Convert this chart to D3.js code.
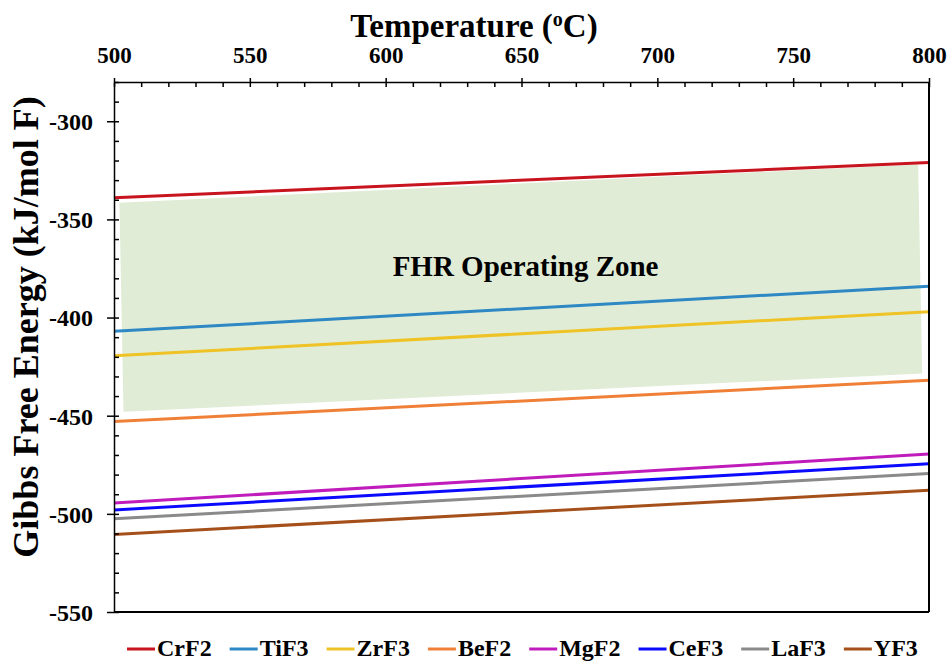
<!DOCTYPE html>
<html lang="en">
  <head>
    <meta charset="UTF-8" />
    <title>Gibbs Free Energy</title>
    <style>
      body { margin: 0; background: #fff; }
      text { font-family: "Liberation Serif", "Times New Roman", serif; font-weight: bold; fill: #000; }
      .axis path, .axis line { stroke: #000; stroke-width: 1.5px; }
    </style>
    <script src="https://d3js.org/d3.v7.min.js"></script>
  </head>
  <body>
    <div id="chart"></div>
    <script>
      // endpoints of each line, temperatures in degC
      const temps = [500, 800];
      const names = ["CrF2", "TiF3", "ZrF3", "BeF2", "MgF2", "CeF3", "LaF3", "YF3"];
      const colors = ["#c8141e", "#2e88c4", "#efc225", "#f08038", "#c01cbc", "#0a0aff", "#8a8a8a", "#a5501a"];
      const energyAt500 = [-339, -407, -419.5, -453, -494.5, -498, -502.5, -510.5];
      const energyAt800 = [-321, -384, -397, -432, -469.5, -474.5, -479.5, -488];
      // operating zone corners (temp, energy)
      const zoneTemps = [502, 796, 797.5, 503.5];
      const zoneEnergy = [-341.5, -322, -428.5, -448];
      const xTicks = [500, 550, 600, 650, 700, 750, 800];
      const yTicks = [-300, -350, -400, -450, -500, -550];

      const width = 949, height = 661;
      const margin = { top: 82, right: 20, bottom: 49, left: 114 };
      const serif = '"Liberation Serif", "Times New Roman", serif';

      const svg = d3.select("#chart").append("svg")
        .attr("width", width).attr("height", height);

      const x = d3.scaleLinear().domain([500, 800]).range([margin.left, width - margin.right]);
      const y = d3.scaleLinear().domain([-550, -280]).range([height - margin.bottom, margin.top]);

      // operating zone
      svg.append("polygon")
        .attr("points", zoneTemps.map((t, i) => [x(t), y(zoneEnergy[i])].join(",")).join(" "))
        .attr("fill", "#e0ecd6");

      svg.append("text")
        .attr("x", x(651.5)).attr("y", y(-379))
        .attr("text-anchor", "middle")
        .style("font-size", "29px")
        .text("FHR Operating Zone");

      // lines
      const line = d3.line().x(d => x(d[0])).y(d => y(d[1]));
      names.forEach((n, i) => {
        svg.append("path")
          .datum(temps.map((t, j) => [t, j === 0 ? energyAt500[i] : energyAt800[i]]))
          .attr("d", line)
          .attr("fill", "none")
          .attr("stroke", colors[i])
          .attr("stroke-width", 3);
      });

      // frame: right and bottom
      svg.append("line")
        .attr("x1", x(800)).attr("x2", x(800))
        .attr("y1", y(-280)).attr("y2", y(-550))
        .attr("stroke", "#000").attr("stroke-width", 2);
      svg.append("line")
        .attr("x1", x(500)).attr("x2", x(800))
        .attr("y1", y(-550)).attr("y2", y(-550))
        .attr("stroke", "#000").attr("stroke-width", 2);

      // top axis
      const minorX = d3.range(500, 801, 10);
      svg.append("g").attr("class", "axis")
        .attr("transform", `translate(0,${margin.top})`)
        .call(d3.axisTop(x).tickValues(minorX).tickSize(-5).tickFormat(""))
        .call(g => g.select(".domain").remove());
      const gx = svg.append("g").attr("class", "axis")
        .attr("transform", `translate(0,${margin.top})`)
        .call(d3.axisTop(x).tickValues(xTicks).tickSize(4).tickSizeOuter(0).tickPadding(15).tickFormat(d3.format("d")))
        .attr("font-family", serif);
      gx.select(".domain").attr("stroke-width", 2);
      gx.selectAll("text").style("font-size", "23px");

      // left axis
      const minorY = d3.range(-550, -279, 10);
      svg.append("g").attr("class", "axis")
        .attr("transform", `translate(${margin.left},0)`)
        .call(d3.axisLeft(y).tickValues(minorY).tickSize(-5).tickFormat(""))
        .call(g => g.select(".domain").remove());
      const gy = svg.append("g").attr("class", "axis")
        .attr("transform", `translate(${margin.left},0)`)
        .call(d3.axisLeft(y).tickValues(yTicks).tickSize(7).tickSizeOuter(0).tickPadding(14).tickFormat(d => d))
        .attr("font-family", serif);
      gy.select(".domain").attr("stroke-width", 2);
      gy.selectAll("text").style("font-size", "24px").attr("dy", "0.35em");

      // axis titles
      const title = svg.append("text")
        .attr("x", 474).attr("y", 37)
        .attr("text-anchor", "middle")
        .style("font-size", "33px");
      title.append("tspan").text("Temperature (");
      title.append("tspan").text("o").attr("baseline-shift", "super").style("font-size", "20px");
      title.append("tspan").text("C)");

      svg.append("text")
        .attr("transform", "rotate(-90)")
        .attr("x", -327).attr("y", 38)
        .attr("text-anchor", "middle")
        .style("font-size", "36px")
        .text("Gibbs Free Energy (kJ/mol F)");

      // legend, items laid out one after another
      const legend = svg.append("g").attr("transform", "translate(127,649)");
      let lx = 0;
      names.forEach((n, i) => {
        const item = legend.append("g").attr("transform", `translate(${lx},0)`);
        item.append("line")
          .attr("x1", 0).attr("x2", 28).attr("y1", 0).attr("y2", 0)
          .attr("stroke", colors[i]).attr("stroke-width", 3);
        const t = item.append("text")
          .attr("x", 30).attr("y", 7)
          .style("font-size", "24px")
          .text(n);
        lx += 30 + t.node().getComputedTextLength() + 18;
      });
    </script>
  </body>
</html>
